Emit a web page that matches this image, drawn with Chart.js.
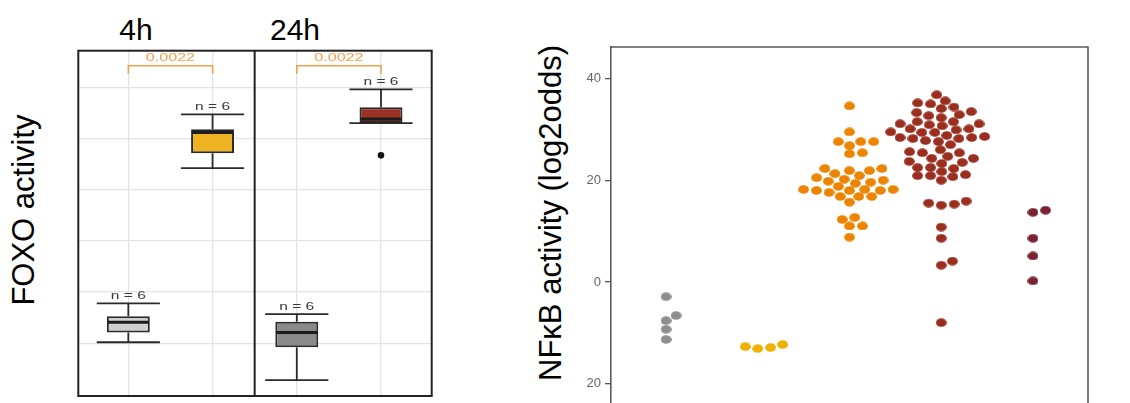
<!DOCTYPE html>
<html>
<head>
<meta charset="utf-8">
<script src="https://cdn.jsdelivr.net/npm/chart.js@4.4.1/dist/chart.umd.min.js"></script>
<style>
  body { margin: 0; width: 1130px; height: 403px; overflow: hidden; background: #fff; position: relative;
         font-family: 'Liberation Sans', Arial, sans-serif; }
  .lbl { position: absolute; color: #000; white-space: nowrap; line-height: 1; }
  .rot { transform: translate(-50%, -50%) rotate(-90deg); }
  .facet { transform: translateX(-50%); font-size: 30px; top: 15px; }
  #boxCanvas { position: absolute; left: 40px; top: 0; }
  #swarmCanvas { position: absolute; left: 560px; top: 0; }
</style>
</head>
<body>
<div class="lbl facet" style="left:136px">4h</div>
<div class="lbl facet" style="left:295px">24h</div>
<div class="lbl rot" style="left:23px; top:210px; font-size:31px">FOXO activity</div>
<div class="lbl rot" style="left:550px; top:213px; font-size:31px">NFκB activity (log2odds)</div>
<canvas id="boxCanvas" width="420" height="403"></canvas>
<canvas id="swarmCanvas" width="570" height="430"></canvas>
<script>
// ---- left panel: FOXO boxplots ----
const boxGroups = ['4h control', '4h treated', '24h control', '24h treated'];
const boxPos = [1, 2, 3, 4];
const whiskerLow = [0.02, 3.42, -0.72, 4.30];
const quart1 = [0.21, 3.71, -0.08, 4.30];
const medians = [0.41, 4.12, 0.21, 4.38];
const quart3 = [0.53, 4.18, 0.42, 4.61];
const whiskerHigh = [0.78, 4.47, 0.57, 4.96];
const nCounts = [6, 6, 6, 6];
const outlierPos = [4];
const outlierVal = [3.67];
const boxColors = ['#d0d0d0', '#efb321', '#8a8a8a', '#9b3124'];
const pLabels = ['0.0022', '0.0022'];
const pPairs = [[1, 2], [3, 4]];
const foxoGridY = [0, 1, 2, 3, 4, 5];

// ---- right panel: NFkB beeswarm ----
const swarmGroups = ['g1', 'g2', 'g3', 'g4', 'g5'];
const swarmColors = ['#8e8e8e', '#f0b000', '#ec8400', '#9a2f20', '#7a2232'];
const nfkbGray = [-2.9, -6.6, -7.6, -9.3, -11.3];
const nfkbYellow = [-12.7, -13.1, -12.9, -12.3];
const nfkbOrange = [34.6, 29.5, 27.6, 27.6, 27.6, 26.8, 25.2, 25.4,
  22.3, 21.9, 22.3, 20.9, 20.5, 21.3, 21.9,
  20.0, 19.6, 19.4, 18.8, 19.8, 20.2,
  18.2, 18.0, 18.2, 18.0, 16.8, 16.8, 16.8, 17.6, 18.0, 18.2,
  15.7, 12.3, 12.7, 11.0, 11.0, 8.8];
const nfkbRed = [36.8, 35.2, 35.0, 35.6, 34.4, 33.5, 33.3, 32.7, 34.1, 32.9,
  31.5, 31.1, 32.3, 30.9, 31.5, 31.1, 30.1, 29.5, 29.4, 30.7, 29.4, 29.9, 30.1,
  28.4, 27.8, 27.6, 28.6, 28.4, 28.2, 28.2, 28.8, 26.0, 27.0, 25.4, 25.6,
  24.7, 24.3, 25.4, 24.3, 23.3, 23.7, 22.5, 22.3, 23.5, 22.5,
  20.9, 20.9, 21.7, 20.7, 21.1, 20.0,
  15.5, 15.1, 15.3, 15.9, 10.8, 8.6, 3.3, 4.1, -8.0];
const nfkbDark = [13.7, 14.1, 8.6, 5.1, 0.2];
const nfkbSeries = [nfkbGray, nfkbYellow, nfkbOrange, nfkbRed, nfkbDark];
const nfkbTicks = [-20, 0, 20, 40];

Chart.defaults.font.family = "'Liberation Sans', Arial, sans-serif";

function stretchedText(ctx, txt, x, y, sx) {
    ctx.save();
    ctx.translate(x, y);
    ctx.scale(sx, 1);
    ctx.fillText(txt, 0, 0);
    ctx.restore();
}

const boxExtras = {
    id: 'boxExtras',
    afterDatasetsDraw(chart) {
        const { ctx, scales: { x, y } } = chart;
        const capHalf = 0.375, boxHalf = 0.255;
        ctx.save();
        const line = (x1, y1, x2, y2) => { ctx.beginPath(); ctx.moveTo(x1, y1); ctx.lineTo(x2, y2); ctx.stroke(); };
        boxPos.forEach((g, i) => {
            const cx = x.getPixelForValue(g);
            const cl = x.getPixelForValue(g - capHalf), cr = x.getPixelForValue(g + capHalf);
            const bl = x.getPixelForValue(g - boxHalf), br = x.getPixelForValue(g + boxHalf);
            ctx.strokeStyle = '#2a2a2a';
            ctx.lineWidth = 1.8;
            line(cx, y.getPixelForValue(quart3[i]), cx, y.getPixelForValue(whiskerHigh[i]));
            line(cx, y.getPixelForValue(quart1[i]), cx, y.getPixelForValue(whiskerLow[i]));
            line(cl, y.getPixelForValue(whiskerHigh[i]), cr, y.getPixelForValue(whiskerHigh[i]));
            line(cl, y.getPixelForValue(whiskerLow[i]), cr, y.getPixelForValue(whiskerLow[i]));
            ctx.strokeStyle = '#1c1c1c';
            ctx.lineWidth = 3.2;
            line(bl + 1, y.getPixelForValue(medians[i]), br - 1, y.getPixelForValue(medians[i]));
            ctx.fillStyle = '#3a3a3a';
            ctx.font = '11.5px "Liberation Sans", Arial, sans-serif';
            ctx.textAlign = 'center';
            ctx.textBaseline = 'middle';
            stretchedText(ctx, 'n = ' + nCounts[i], cx, y.getPixelForValue(whiskerHigh[i]) - 7.5, 1.35);
        });
        // p-value brackets
        const top = chart.chartArea.top;
        pPairs.forEach((pair, k) => {
            const x1 = x.getPixelForValue(pair[0]), x2 = x.getPixelForValue(pair[1]);
            ctx.strokeStyle = '#f2a04c';
            ctx.lineWidth = 1.6;
            ctx.beginPath();
            ctx.moveTo(x1, top + 23); ctx.lineTo(x1, top + 15); ctx.lineTo(x2, top + 15); ctx.lineTo(x2, top + 23);
            ctx.stroke();
            ctx.fillStyle = '#f2a04c';
            ctx.font = '11.5px "Liberation Sans", Arial, sans-serif';
            ctx.textAlign = 'center';
            ctx.textBaseline = 'middle';
            stretchedText(ctx, pLabels[k], (x1 + x2) / 2, top + 7, 1.4);
        });
        ctx.restore();
    },
    afterDraw(chart) {
        const { ctx, chartArea: a, scales: { x } } = chart;
        ctx.save();
        ctx.strokeStyle = '#222';
        ctx.lineWidth = 2;
        ctx.strokeRect(a.left, a.top, a.right - a.left, a.bottom - a.top);
        const dx = x.getPixelForValue(2.5);
        ctx.beginPath(); ctx.moveTo(dx, a.top); ctx.lineTo(dx, a.bottom); ctx.stroke();
        ctx.restore();
    }
};

new Chart(document.getElementById('boxCanvas'), {
    type: 'bar',
    data: {
        datasets: [{
            type: 'bar',
            label: 'FOXO',
            data: boxPos.map((p, i) => ({ x: p, y: [quart1[i], quart3[i]] })),
            backgroundColor: boxColors,
            borderColor: '#2a2a2a',
            borderWidth: 2,
            borderSkipped: false,
            barPercentage: 0.51,
            categoryPercentage: 1
        }, {
            type: 'scatter',
            label: 'outliers',
            data: outlierPos.map((p, i) => ({ x: p, y: outlierVal[i] })),
            pointRadius: 3.3,
            backgroundColor: '#151515',
            borderWidth: 0
        }]
    },
    options: {
        responsive: false,
        animation: false,
        layout: { padding: { left: 38.3, right: 28.3, top: 50.7, bottom: 7 } },
        plugins: { legend: { display: false }, tooltip: { enabled: false } },
        scales: {
            x: {
                type: 'linear', min: 0.406, max: 4.602, offset: false,
                grid: { color: '#e3e3e3', lineWidth: 1.3, drawTicks: false, offset: false },
                border: { display: false },
                ticks: { display: false },
                afterBuildTicks: s => { s.ticks = boxPos.map(v => ({ value: v })); },
                afterFit: s => { s.height = 0; }
            },
            y: {
                min: -1.03, max: 5.714,
                grid: { color: '#e3e3e3', lineWidth: 1.3, drawTicks: false },
                border: { display: false },
                ticks: { display: false },
                afterBuildTicks: s => { s.ticks = foxoGridY.map(v => ({ value: v })); },
                afterFit: s => { s.width = 0; }
            }
        }
    },
    plugins: [boxExtras]
});

// ---- beeswarm ----
function dotImage(color) {
    const c = document.createElement('canvas');
    c.width = 11; c.height = 9;
    const g = c.getContext('2d');
    g.fillStyle = color;
    g.beginPath();
    g.ellipse(5.5, 4.5, 5.4, 4.3, 0, 0, Math.PI * 2);
    g.fill();
    return c;
}

// swarm layout (like ggbeeswarm "swarm", ascending priority), in pixels
function swarmOffsets(values, yScale, dx, dy) {
    const pts = values.map((v, i) => ({ i, py: yScale.getPixelForValue(v) }));
    const order = pts.slice().sort((a, b) => b.py - a.py);
    const placed = [];
    const off = new Array(values.length).fill(0);
    order.forEach(p => {
        const cands = [0];
        placed.forEach(q => {
            const t = (p.py - q.py) / dy;
            if (Math.abs(t) < 1) {
                const h = dx * Math.sqrt(1 - t * t);
                cands.push(q.x + h, q.x - h);
            }
        });
        const ok = cands.filter(c => placed.every(q => {
            const a = (c - q.x) / dx, b = (p.py - q.py) / dy;
            return a * a + b * b >= 0.999;
        }));
        ok.sort((a, b) => (Math.round(Math.abs(a) * 100) - Math.round(Math.abs(b) * 100)) || (b - a));
        const xo = ok[0];
        placed.push({ x: xo, py: p.py });
        off[p.i] = xo;
    });
    return off;
}

const frame = {
    id: 'frame',
    afterDraw(chart) {
        const { ctx, chartArea: a } = chart;
        ctx.save();
        ctx.strokeStyle = '#5a5a5a';
        ctx.lineWidth = 1.6;
        ctx.beginPath();
        ctx.moveTo(a.left, a.top); ctx.lineTo(a.right, a.top); ctx.lineTo(a.right, a.bottom);
        ctx.stroke();
        ctx.restore();
    }
};

const swarmChart = new Chart(document.getElementById('swarmCanvas'), {
    type: 'scatter',
    data: {
        datasets: nfkbSeries.map((vals, k) => ({
            label: swarmGroups[k],
            data: vals.map(v => ({ x: k + 1, y: v })),
            pointStyle: dotImage(swarmColors[k]),
            backgroundColor: swarmColors[k]
        }))
    },
    options: {
        responsive: false,
        animation: false,
        clip: false,
        layout: { padding: { left: 6, right: 42, top: 47, bottom: 10 } },
        plugins: { legend: { display: false }, tooltip: { enabled: false } },
        scales: {
            x: { type: 'linear', min: 0.4, max: 5.6, display: false },
            y: {
                min: -26.8, max: 46.2,
                afterBuildTicks: s => { s.ticks = nfkbTicks.map(v => ({ value: v })); },
                afterFit: s => { s.width = 45; },
                grid: { drawOnChartArea: false, drawTicks: true, tickLength: 6, color: '#555', lineWidth: 1.3 },
                border: { display: true, color: '#5a5a5a', width: 1.6 },
                ticks: { color: '#666', font: { size: 13 }, padding: 4, callback: v => String(Math.abs(v)) }
            }
        }
    },
    plugins: [frame]
});

const xs = swarmChart.scales.x, ys = swarmChart.scales.y;
const pxPerUnit = xs.getPixelForValue(2) - xs.getPixelForValue(1);
nfkbSeries.forEach((vals, k) => {
    const offs = swarmOffsets(vals, ys, 13, 8);
    swarmChart.data.datasets[k].data = vals.map((v, i) => ({ x: k + 1 + offs[i] / pxPerUnit, y: v }));
});
swarmChart.update('none');
</script>
</body>
</html>
